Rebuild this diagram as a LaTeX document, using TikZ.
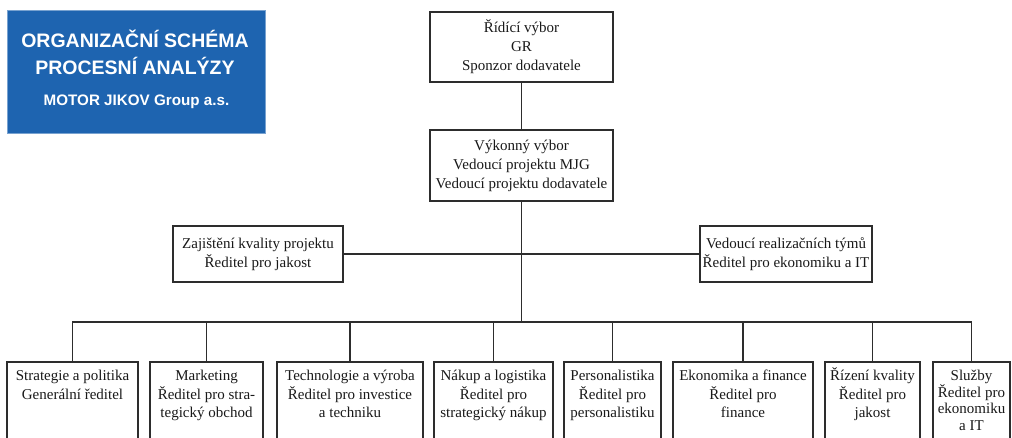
\documentclass[tikz,border=0pt]{standalone}
\usepackage{fontspec}
\setmainfont{Liberation Serif}
\newfontfamily\titlefont{Liberation Sans}
\definecolor{titleblue}{RGB}{30,100,176}
\definecolor{linegray}{RGB}{45,45,45}
\definecolor{textgray}{RGB}{25,25,25}
\newcommand{\fstrut}{\rule{0pt}{14pt}}
\begin{document}
\begin{tikzpicture}[x=1pt,y=-1pt,
  box/.style={draw=linegray, line width=1.4pt, fill=white, inner sep=0pt},
  txt/.style={align=center, font=\fontsize{15}{19}\selectfont, text=textgray, inner sep=0pt},
  lowtxt/.style={txt, anchor=north, font=\fontsize{15}{18.5}\selectfont},
  conn/.style={draw=linegray, line width=1.4pt},
  ttl/.style={text=white, inner sep=0pt, anchor=base}]
\useasboundingbox (0,0) rectangle (1012,437);
\clip (0,0) rectangle (1012,437);

% title block
\node[fill=titleblue, draw=titleblue!60!white, line width=0.6pt, minimum width=258, minimum height=123, inner sep=0pt] (title) at (136,71.5) {};
\node[ttl, font=\titlefont\bfseries\fontsize{19.5}{20}\selectfont] (t1) at (135,47.5) {ORGANIZAČNÍ SCHÉMA};
\node[ttl, font=\titlefont\bfseries\fontsize{19.5}{20}\selectfont] (t2) at (135,74.5) {PROCESNÍ ANALÝZY};
\node[ttl, font=\titlefont\bfseries\fontsize{15.2}{16}\selectfont] (t3) at (136.5,105.5) {MOTOR JIKOV Group a.s.};

% upper boxes
\node[box, txt, minimum width=183, minimum height=70] (rv) at (521.5,47) {Řídící výbor\\GR\\Sponzor dodavatele};
\node[box, txt, minimum width=183, minimum height=71] (vv) at (521.5,165.5) {Výkonný výbor\\Vedoucí projektu MJG\\Vedoucí projektu dodavatele};
\node[box, txt, minimum width=170, minimum height=56] (zk) at (258,254) {Zajištění kvality projektu\\Ředitel pro jakost};
\node[box, txt, minimum width=172, minimum height=56] (vr) at (786,254) {Vedoucí realizačních týmů\\Ředitel pro ekonomiku a IT};

% lower boxes (frames)
\node[box, minimum width=131, minimum height=108] (b1) at (72.5,416) {};
\node[box, minimum width=113, minimum height=108] (b2) at (206.5,416) {};
\node[box, minimum width=146, minimum height=108] (b3) at (350,416) {};
\node[box, minimum width=119, minimum height=108] (b4) at (493.5,416) {};
\node[box, minimum width=97, minimum height=108] (b5) at (612.5,416) {};
\node[box, minimum width=140, minimum height=108] (b6) at (743,416) {};
\node[box, minimum width=95, minimum height=108] (b7) at (872.5,416) {};
\node[box, minimum width=77, minimum height=108] (b8) at (971.5,416) {};

% lower box texts
\node[lowtxt] (l1) at ([yshift=-5]b1.north) {\fstrut Strategie a politika\\Generální ředitel};
\node[lowtxt] (l2) at ([yshift=-5]b2.north) {\fstrut Marketing\\Ředitel pro stra-\\tegický obchod};
\node[lowtxt] (l3) at ([yshift=-5]b3.north) {\fstrut Technologie a výroba\\Ředitel pro investice\\a techniku};
\node[lowtxt] (l4) at ([yshift=-5]b4.north) {\fstrut Nákup a logistika\\Ředitel pro\\strategický nákup};
\node[lowtxt] (l5) at ([yshift=-5]b5.north) {\fstrut Personalistika\\Ředitel pro\\personalistiku};
\node[lowtxt] (l6) at ([yshift=-5]b6.north) {\fstrut Ekonomika a finance\\Ředitel pro\\finance};
\node[lowtxt] (l7) at ([yshift=-5]b7.north) {\fstrut Řízení kvality\\Ředitel pro\\jakost};
\node[lowtxt, font=\fontsize{15}{16.5}\selectfont] (l8) at ([yshift=-5]b8.north) {\fstrut Služby\\Ředitel pro\\ekonomiku\\a IT};

% connectors
\coordinate (bus) at (521.5,322);
\draw[conn] (rv.south) -- (vv.north);
\draw[conn] (vv.south) -- (bus);
\draw[conn] (zk.east) -- (vr.west);
\draw[conn] (b1.north) -- (b1.north |- bus) -- (b8.north |- bus) -- (b8.north);
\foreach \b in {b2,b3,b4,b5,b6,b7}
  \draw[conn] (\b.north) -- (\b.north |- bus);
\end{tikzpicture}
\end{document}
